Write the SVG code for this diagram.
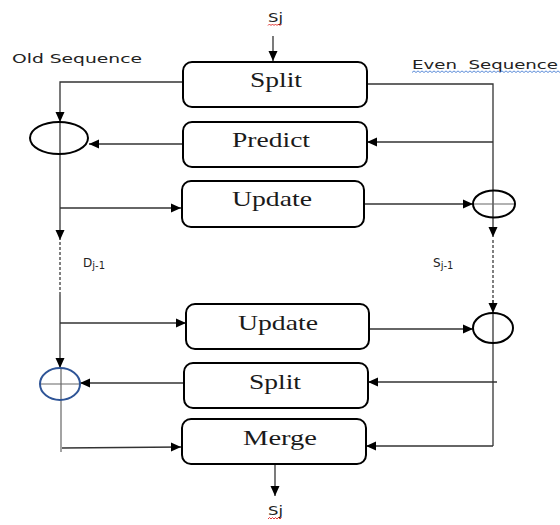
<svg xmlns="http://www.w3.org/2000/svg" width="560" height="525" viewBox="0 0 560 525">
<style>
.box{fill:#fff;stroke:#000;stroke-width:2}
.bt{font-family:"Liberation Serif","Times New Roman",serif;font-size:21px;fill:#1a1a1a}
.lbl{font-family:"DejaVu Sans","Verdana",sans-serif;font-size:12px;fill:#222}
.ln{fill:none;stroke:#333;stroke-width:1.3}
.dash{fill:none;stroke:#555;stroke-width:1.5;stroke-dasharray:3 2}
.op{fill:none;stroke:#000;stroke-width:2}
.opb{fill:none;stroke:#2f5597;stroke-width:2}
.cross{stroke:#666;stroke-width:1.2}
</style>
<defs>
<marker id="ah" viewBox="0 0 10 10" refX="10" refY="5" markerWidth="10" markerHeight="10" markerUnits="userSpaceOnUse" orient="auto">
<path d="M0,0.5 L10,5 L0,9.5 Z" fill="#000"/>
</marker>
</defs>

<rect width="560" height="525" fill="#fff"/>

<g id="connectors">
<line class="ln" x1="273" y1="36" x2="273" y2="61" marker-end="url(#ah)"/>
<path class="ln" d="M183,82 H60 V122" marker-end="url(#ah)"/>
<line class="ln" x1="60" y1="122" x2="60" y2="240" marker-end="url(#ah)"/>
<line class="ln" x1="183" y1="144" x2="89" y2="144" marker-end="url(#ah)"/>
<line class="ln" x1="60" y1="208" x2="181" y2="208" marker-end="url(#ah)"/>
<path class="ln" d="M367,84 H493 V237" marker-end="url(#ah)"/>
<line class="ln" x1="493" y1="142" x2="367" y2="142" marker-end="url(#ah)"/>
<line class="ln" x1="364" y1="204" x2="473" y2="204" marker-end="url(#ah)"/>
<line class="cross" x1="473" y1="204" x2="515" y2="204"/>
<line class="dash" x1="60" y1="242" x2="60" y2="296"/>
<line class="dash" x1="493" y1="240" x2="493" y2="306"/>
<line class="ln" x1="493" y1="300" x2="493" y2="313" marker-end="url(#ah)"/>
<line class="ln" x1="60" y1="295" x2="60" y2="368" marker-end="url(#ah)"/>
<line class="ln" x1="60" y1="323" x2="186" y2="323" marker-end="url(#ah)"/>
<line class="ln" x1="184" y1="383" x2="80" y2="383" marker-end="url(#ah)"/>
<line class="cross" x1="40" y1="384" x2="80" y2="384"/>
<line class="cross" x1="61" y1="368" x2="61" y2="452"/>
<line class="ln" x1="62" y1="448" x2="181" y2="447" marker-end="url(#ah)"/>
<line class="ln" x1="369" y1="329" x2="473" y2="329" marker-end="url(#ah)"/>
<line class="ln" x1="493" y1="313" x2="493" y2="446"/>
<line class="ln" x1="497" y1="382" x2="368" y2="382" marker-end="url(#ah)"/>
<line class="ln" x1="493" y1="446" x2="366" y2="446" marker-end="url(#ah)"/>
<line class="ln" x1="275" y1="464" x2="275" y2="496" marker-end="url(#ah)"/>
</g>

<g id="node-split1">
<rect class="box" x="183" y="62" width="184" height="45" rx="9"/>
<text class="bt" x="250" y="87" textLength="52" lengthAdjust="spacingAndGlyphs">Split</text>
</g>
<g id="node-predict">
<rect class="box" x="183" y="122" width="184" height="45" rx="9"/>
<text class="bt" x="232" y="147" textLength="78" lengthAdjust="spacingAndGlyphs">Predict</text>
</g>
<g id="node-update1">
<rect class="box" x="182" y="181" width="182" height="46" rx="9"/>
<text class="bt" x="232" y="206" textLength="80" lengthAdjust="spacingAndGlyphs">Update</text>
</g>
<g id="node-update2">
<rect class="box" x="186" y="304" width="183" height="45" rx="9"/>
<text class="bt" x="238" y="330" textLength="80" lengthAdjust="spacingAndGlyphs">Update</text>
</g>
<g id="node-split2">
<rect class="box" x="184" y="363" width="184" height="45" rx="9"/>
<text class="bt" x="249" y="389" textLength="52" lengthAdjust="spacingAndGlyphs">Split</text>
</g>
<g id="node-merge">
<rect class="box" x="182" y="419" width="184" height="45" rx="9"/>
<text class="bt" x="243" y="445" textLength="74" lengthAdjust="spacingAndGlyphs">Merge</text>
</g>

<g id="op-left1"><ellipse class="op" cx="59" cy="138" rx="29" ry="16"/></g>
<g id="op-right1"><ellipse class="op" cx="494" cy="204" rx="21" ry="13.5"/></g>
<g id="op-right2"><ellipse class="op" cx="493" cy="328" rx="20" ry="15"/></g>
<g id="op-left2"><ellipse class="opb" cx="60" cy="384" rx="20" ry="16"/></g>

<g id="labels">
<text class="lbl" x="268" y="22" font-size="15" textLength="15" lengthAdjust="spacingAndGlyphs">Sj</text>
<path d="M268,25.5 l1.5,-1.5 l1.5,1.5 l1.5,-1.5 l1.5,1.5 l1.5,-1.5 l1.5,1.5 l1.5,-1.5 l1.5,1.5 l1.5,-1.5" fill="none" stroke="#e02020" stroke-width="0.9"/>
<text class="lbl" x="12" y="63" textLength="130" lengthAdjust="spacingAndGlyphs">Old Sequence</text>
<text class="lbl" x="412" y="69" textLength="146" lengthAdjust="spacingAndGlyphs" xml:space="preserve">Even  Sequence</text>
<path d="M412,72.5 l2,-1.6 l2,1.6 l2,-1.6 l2,1.6 l2,-1.6 l2,1.6 l2,-1.6 l2,1.6 l2,-1.6 l2,1.6 l2,-1.6 l2,1.6 l2,-1.6 l2,1.6 l2,-1.6 l2,1.6 l2,-1.6 l2,1.6 l2,-1.6 l2,1.6 l2,-1.6 l2,1.6 l2,-1.6 l2,1.6 l2,-1.6 l2,1.6 l2,-1.6 l2,1.6 l2,-1.6 l2,1.6 l2,-1.6 l2,1.6 l2,-1.6 l2,1.6 l2,-1.6 l2,1.6 l2,-1.6 l2,1.6 l2,-1.6 l2,1.6 l2,-1.6 l2,1.6 l2,-1.6 l2,1.6 l2,-1.6 l2,1.6 l2,-1.6 l2,1.6 l2,-1.6 l2,1.6 l2,-1.6 l2,1.6 l2,-1.6 l2,1.6 l2,-1.6 l2,1.6 l2,-1.6 l2,1.6 l2,-1.6 l2,1.6 l2,-1.6 l2,1.6 l2,-1.6 l2,1.6 l2,-1.6 l2,1.6 l2,-1.6 l2,1.6 l2,-1.6 l2,1.6 l2,-1.6 l2,1.6 l2,-1.6 l2,1.6" fill="none" stroke="#4a7fd4" stroke-width="0.9"/>
<text class="lbl" x="83" y="267" font-size="14">D<tspan font-size="10" dy="2">j-1</tspan></text>
<text class="lbl" x="433" y="267" font-size="14">S<tspan font-size="10" dy="2">j-1</tspan></text>
<text class="lbl" x="268" y="515" font-size="15" textLength="15" lengthAdjust="spacingAndGlyphs">Sj</text>
<path d="M268,519 l1.5,-1.5 l1.5,1.5 l1.5,-1.5 l1.5,1.5 l1.5,-1.5 l1.5,1.5 l1.5,-1.5 l1.5,1.5 l1.5,-1.5" fill="none" stroke="#e02020" stroke-width="0.9"/>
</g>
</svg>
